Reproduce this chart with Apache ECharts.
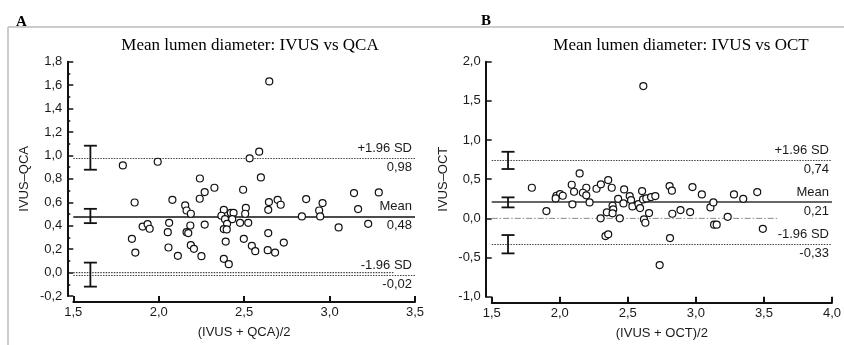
<!DOCTYPE html>
<html>
<head>
<meta charset="utf-8">
<script src="https://cdn.jsdelivr.net/npm/echarts@6/dist/echarts.min.js"></script>
<style>
html,body{margin:0;padding:0;background:#fff}
#chart{width:844px;height:345px}
</style>
</head>
<body>
<div id="chart"></div>
<script>
// ---- data ----
// panel A: (IVUS+QCA)/2 vs IVUS-QCA
var qcaPoints = [
  [1.79,0.915],[1.994,0.946],[2.241,0.803],[1.859,0.598],[2.08,0.621],[2.24,0.63],
  [2.155,0.573],[2.163,0.53],[2.188,0.502],[1.906,0.393],[1.935,0.413],[1.947,0.374],
  [2.061,0.425],[2.185,0.402],[2.053,0.345],[2.163,0.345],[2.173,0.337],[1.843,0.288],
  [1.863,0.171],[2.057,0.214],[2.188,0.234],[2.206,0.203],[2.112,0.143],[2.25,0.14],
  [2.588,1.032],[2.532,0.975],[2.598,0.812],[2.269,0.687],[2.326,0.724],[2.494,0.707],
  [2.645,0.602],[2.696,0.621],[2.714,0.579],[2.641,0.536],[2.863,0.627],[2.51,0.553],
  [2.506,0.502],[2.381,0.536],[2.367,0.485],[2.388,0.456],[2.422,0.51],[2.438,0.51],
  [2.43,0.456],[2.4,0.416],[2.381,0.371],[2.398,0.368],[2.476,0.425],[2.524,0.425],
  [2.269,0.41],[2.392,0.265],[2.498,0.288],[2.641,0.337],[2.732,0.256],[2.545,0.228],
  [2.565,0.183],[2.638,0.191],[2.681,0.171],[2.381,0.117],[2.41,0.072],[2.838,0.479],
  [2.959,0.593],[2.939,0.53],[2.945,0.479],[3.053,0.385],[3.143,0.679],[3.288,0.684],
  [3.167,0.542],[3.226,0.416],[2.647,1.632]
];
var qcaLimits = [-0.02, 0.48, 0.98];          // -1.96 SD, mean, +1.96 SD
var qcaCI = [[1.6,-0.12,0.085],[1.6,0.422,0.544],[1.6,0.878,1.083]];
var qcaZero = [[1.5,0],[3.375,0]];
var qcaX = [1.5, 3.5, 0.5];                   // min, max, interval
var qcaY = [-0.2, 1.8, 0.2];

// panel B: (IVUS+OCT)/2 vs IVUS-OCT
var octPoints = [
  [2.146,0.574],[1.795,0.391],[2.088,0.429],[2.195,0.391],[2.105,0.34],[2.17,0.327],
  [2.195,0.294],[2.27,0.378],[2.302,0.434],[2.356,0.489],[1.976,0.289],[2.002,0.31],
  [2.022,0.289],[1.97,0.255],[1.902,0.093],[2.093,0.179],[2.219,0.204],[2.346,0.077],
  [2.3,0.0],[2.336,-0.226],[2.356,-0.204],[2.382,0.391],[2.473,0.37],[2.429,0.25],
  [2.468,0.191],[2.514,0.285],[2.524,0.234],[2.534,0.153],[2.578,0.183],[2.59,0.132],
  [2.605,0.348],[2.612,0.242],[2.636,0.255],[2.671,0.272],[2.702,0.285],[2.388,0.161],
  [2.393,0.115],[2.388,0.064],[2.441,0.0],[2.619,-0.013],[2.629,-0.056],[2.656,0.068],
  [2.807,0.412],[2.824,0.353],[2.975,0.4],[3.044,0.306],[2.827,0.059],[2.887,0.106],
  [2.958,0.08],[3.107,0.14],[3.129,0.204],[2.81,-0.251],[2.734,-0.596],[3.28,0.306],
  [3.348,0.25],[3.451,0.336],[3.234,0.02],[3.134,-0.081],[3.153,-0.081],[3.492,-0.133],
  [2.614,1.689]
];
var octLimits = [-0.33, 0.21, 0.74];
var octCI = [[1.62,-0.447,-0.213],[1.62,0.14,0.268],[1.62,0.63,0.85]];
var octZero = [[1.5,0],[3.6,0]];
var octX = [1.5, 4.0, 0.5];
var octY = [-1.0, 2.0, 0.5];

var sans = 'Liberation Sans, Arial, sans-serif';
var serif = 'Liberation Serif, Times New Roman, serif';
var ink = '#1a1a1a';

function comma(v, d) {
  return v.toFixed(d).replace('.', ',');
}

function xAxisOf(idx, r, name) {
  return {
    type: 'value', gridIndex: idx, min: r[0], max: r[1], interval: r[2],
    offset: 6, name: name, nameLocation: 'middle', nameGap: 24,
    nameTextStyle: {fontFamily: sans, fontSize: 13, color: ink},
    axisLine: {onZero: false, lineStyle: {color: '#111', width: 2}},
    axisTick: {inside: true, length: 6, lineStyle: {color: '#111', width: 2}},
    axisLabel: {fontFamily: sans, fontSize: 13, color: ink, margin: 4,
      formatter: function (v) { return comma(v, 1); }},
    splitLine: {show: false}
  };
}

function yAxisOf(idx, r, name, minor) {
  return {
    type: 'value', gridIndex: idx, min: r[0], max: r[1], interval: r[2],
    offset: 6, name: name, nameLocation: 'middle', nameGap: 36,
    nameTextStyle: {fontFamily: sans, fontSize: 13, color: ink},
    axisLine: {onZero: false, lineStyle: {color: '#111', width: 2}},
    axisTick: {inside: true, length: 6, lineStyle: {color: '#111', width: 1.5}},
    minorTick: {show: minor, splitNumber: 2, length: 3, lineStyle: {color: '#111', width: 1.5}},
    axisLabel: {fontFamily: sans, fontSize: 13, color: ink, margin: 5,
      formatter: function (v) { return comma(v, 1); }},
    splitLine: {show: false}
  };
}

function limitLines(lim, meanStyle) {
  var dot = {type: [1.5, 1.2], color: '#444', width: 1.2};
  var hide = {color: 'rgba(0,0,0,0)', width: 1};
  function pair(v, top, style) {
    return [
      {yAxis: v, lineStyle: style, label: {position: 'insideEndTop', formatter: top}},
      {yAxis: v, lineStyle: hide, label: {position: 'insideEndBottom', formatter: comma(v, 2)}}
    ];
  }
  return [].concat(pair(lim[2], '+1.96 SD', dot), pair(lim[1], 'Mean', meanStyle), pair(lim[0], '-1.96 SD', dot));
}

function ciBars(idx, data) {
  return {
    type: 'custom', xAxisIndex: idx, yAxisIndex: idx, data: data, silent: true, z: 3,
    renderItem: function (params, api) {
      var top = api.coord([api.value(0), api.value(2)]);
      var bot = api.coord([api.value(0), api.value(1)]);
      var w = 6.5, st = {stroke: '#111', lineWidth: 1.8};
      return {type: 'group', children: [
        {type: 'line', shape: {x1: top[0], y1: top[1], x2: bot[0], y2: bot[1]}, style: st},
        {type: 'line', shape: {x1: top[0] - w, y1: top[1], x2: top[0] + w, y2: top[1]}, style: st},
        {type: 'line', shape: {x1: bot[0] - w, y1: bot[1], x2: bot[0] + w, y2: bot[1]}, style: st}
      ]};
    }
  };
}

function scatterOf(idx, data, lim, meanStyle) {
  return {
    type: 'scatter', xAxisIndex: idx, yAxisIndex: idx, data: data, z: 5,
    symbol: 'circle', symbolSize: 7,
    itemStyle: {color: '#fff', borderColor: '#111', borderWidth: 1.2, opacity: 1},
    markLine: {
      silent: true, symbol: ['none', 'none'], z: 2,
      label: {fontFamily: sans, fontSize: 13, color: ink, distance: 3},
      data: limitLines(lim, meanStyle)
    }
  };
}

function zeroLine(idx, data, style) {
  return {
    type: 'line', xAxisIndex: idx, yAxisIndex: idx, data: data, symbol: 'none',
    silent: true, z: 1, lineStyle: style
  };
}

var option = {
  animation: false,
  backgroundColor: '#fff',
  title: [
    {text: 'A', left: 11, top: 10, textStyle: {fontFamily: serif, fontSize: 15, fontWeight: 'bold', color: '#000'}},
    {text: 'B', left: 476, top: 9, textStyle: {fontFamily: serif, fontSize: 15, fontWeight: 'bold', color: '#000'}},
    {text: 'Mean lumen diameter: IVUS vs QCA', left: 245, top: 32, textAlign: 'center',
      textStyle: {fontFamily: serif, fontSize: 17, fontWeight: 'normal', color: '#000'}},
    {text: 'Mean lumen diameter: IVUS vs OCT', left: 676, top: 32, textAlign: 'center',
      textStyle: {fontFamily: serif, fontSize: 17, fontWeight: 'normal', color: '#000'}}
  ],
  graphic: [
    {type: 'line', shape: {x1: 8, y1: 27, x2: 844, y2: 27}, style: {stroke: '#bbb', lineWidth: 1.5}},
    {type: 'line', shape: {x1: 8, y1: 27, x2: 8, y2: 345}, style: {stroke: '#bbb', lineWidth: 1.5}}
  ],
  grid: [
    {left: 73.3, top: 61.7, width: 341.7, height: 234.3},
    {left: 491.7, top: 61.7, width: 341.6, height: 235}
  ],
  xAxis: [
    xAxisOf(0, qcaX, '(IVUS + QCA)/2'),
    xAxisOf(1, octX, '(IVUS + OCT)/2')
  ],
  yAxis: [
    yAxisOf(0, qcaY, 'IVUS\u2013QCA', true),
    yAxisOf(1, octY, 'IVUS\u2013OCT', false)
  ],
  series: [
    zeroLine(0, qcaZero, {type: [1.5, 1.2], color: '#444', width: 1.2}),
    zeroLine(1, octZero, {type: [6, 2, 1.5, 2], color: '#888', width: 1}),
    ciBars(0, qcaCI),
    ciBars(1, octCI),
    scatterOf(0, qcaPoints, qcaLimits, {type: 'solid', color: '#111', width: 1.5}),
    scatterOf(1, octPoints, octLimits, {type: 'solid', color: '#666', width: 2})
  ]
};

var chart = echarts.init(document.getElementById('chart'));
chart.setOption(option);
</script>
</body>
</html>
